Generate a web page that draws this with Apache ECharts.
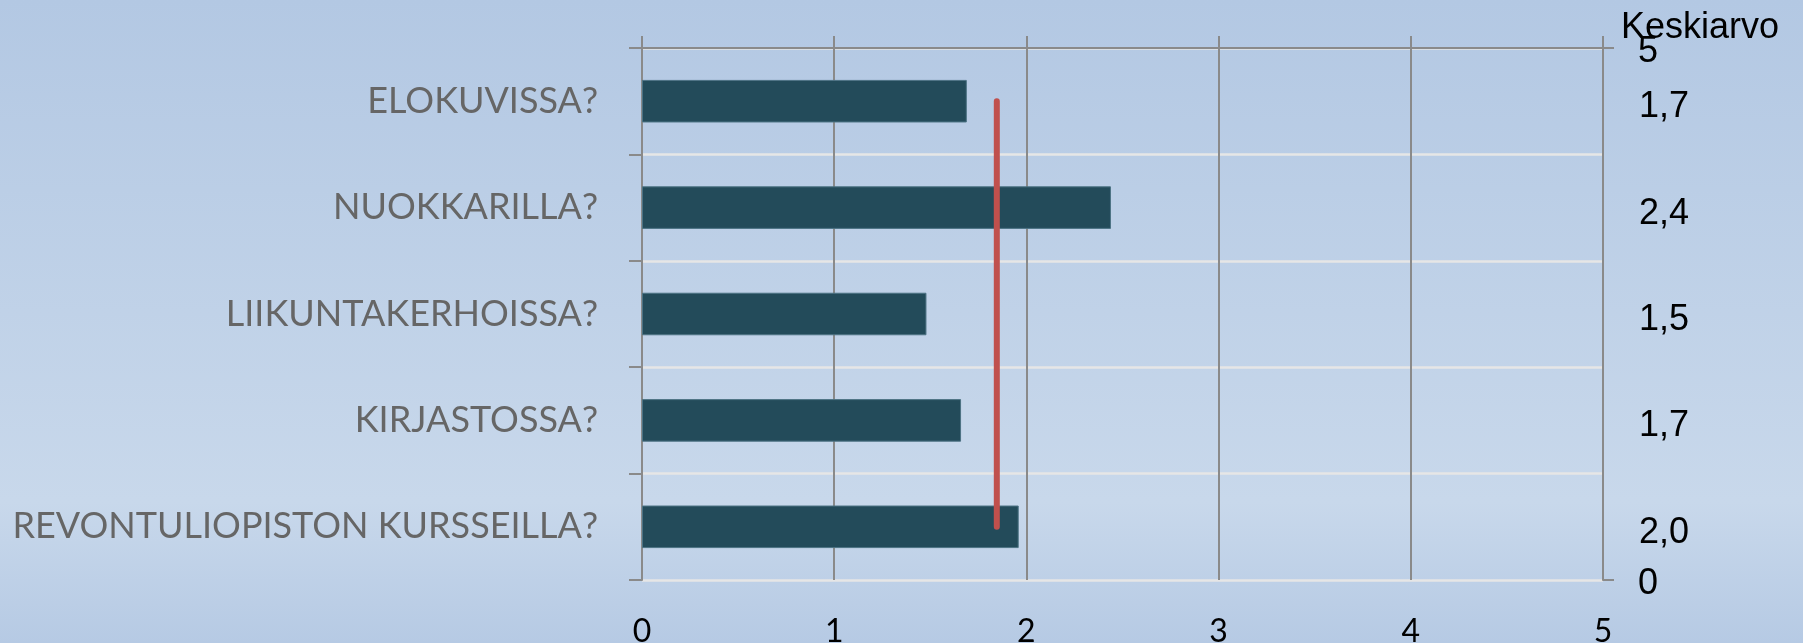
<!DOCTYPE html>
<html>
<head>
<meta charset="utf-8">
<script src="https://cdn.jsdelivr.net/npm/echarts@6/dist/echarts.min.js"></script>
<style>
  html, body { margin: 0; padding: 0; }
  #chart { width: 1803px; height: 643px; }
</style>
</head>
<body>
<div id="chart"></div>
<script>
// kysymykset ylhäältä alas
const categories = ['ELOKUVISSA?', 'NUOKKARILLA?', 'LIIKUNTAKERHOISSA?', 'KIRJASTOSSA?', 'REVONTULIOPISTON KURSSEILLA?']
const values = [1.69, 2.44, 1.48, 1.66, 1.96]
const xTicks = [0, 1, 2, 3, 4, 5]
const rightTicks = [0, 5]

// keskiarvo punaista viivaa varten
const avg = values.reduce((a, b) => a + b, 0) / values.length
const fmt = v => v.toFixed(1).replace('.', ',')

const myChart = echarts.init(document.getElementById('chart'))
const gray = '#8a8a8a'

const options = {
  animation: false,
  backgroundColor: new echarts.graphic.LinearGradient(0, 0, 0, 1, [
    { offset: 0, color: '#b3c8e3' },
    { offset: 0.78, color: '#c8d8eb' },
    { offset: 1, color: '#b6cae4' }
  ]),
  title: {
    text: 'Keskiarvo',
    left: 1621,
    top: 10,
    padding: 0,
    textStyle: { color: '#000', fontFamily: 'Liberation Sans', fontSize: 36, fontWeight: 'normal' }
  },
  grid: { left: 642, right: 200, top: 48, bottom: 63, containLabel: false, outerBoundsMode: 'none' },
  xAxis: [
    {
      type: 'value',
      position: 'bottom',
      min: xTicks[0],
      max: xTicks[xTicks.length - 1],
      interval: 1,
      axisLine: { show: false, onZero: false },
      axisTick: { show: false },
      axisLabel: { margin: 36, color: '#000', fontFamily: 'Lato', fontSize: 32 },
      splitLine: { show: true, lineStyle: { color: gray, width: 2 } }
    },
    {
      // yläreunan akseli (vain viiva ja ticksit)
      type: 'value',
      position: 'top',
      min: xTicks[0],
      max: xTicks[xTicks.length - 1],
      interval: 1,
      axisLine: { show: true, onZero: false, lineStyle: { color: gray, width: 2 } },
      axisTick: { show: true, length: 12, lineStyle: { color: gray, width: 2 } },
      axisLabel: { show: false },
      splitLine: { show: false }
    }
  ],
  yAxis: [
    {
      type: 'category',
      data: categories,
      inverse: true,
      position: 'left',
      axisLine: { show: true, onZero: false, lineStyle: { color: gray, width: 2 } },
      axisTick: { show: true, length: 13, lineStyle: { color: gray, width: 2 } },
      axisLabel: { margin: 44, color: '#666666', fontFamily: 'Lato', fontSize: 36 },
      splitLine: { show: true, lineStyle: { color: '#e6e6e6', width: 2.5 } }
    },
    {
      type: 'value',
      position: 'right',
      min: rightTicks[0],
      max: rightTicks[1],
      interval: 5,
      axisLine: { show: true, onZero: false, lineStyle: { color: gray, width: 2 } },
      axisTick: { show: true, length: 11, lineStyle: { color: gray, width: 2 } },
      axisLabel: {
        margin: 35, verticalAlign: 'top', lineHeight: 8, color: '#000',
        fontFamily: 'Liberation Sans', fontSize: 36, align: 'left'
      },
      splitLine: { show: false }
    },
    {
      // arvot oikealla
      type: 'category',
      data: categories,
      inverse: true,
      position: 'right',
      axisLine: { show: false, onZero: false },
      axisTick: { show: false },
      axisLabel: {
        margin: 36,
        verticalAlign: 'top',
        lineHeight: 12,
        align: 'left',
        color: '#000',
        fontFamily: 'Liberation Sans',
        fontSize: 36,
        formatter: (v, i) => fmt(values[i])
      },
      splitLine: { show: false }
    }
  ],
  series: [
    {
      type: 'bar',
      xAxisIndex: 0,
      yAxisIndex: 0,
      data: values,
      barCategoryGap: '60%',
      itemStyle: { color: '#234b5a', borderColor: '#4d7384', borderWidth: 1 }
    },
    {
      type: 'line',
      xAxisIndex: 0,
      yAxisIndex: 0,
      data: values.map(() => avg),
      symbol: 'none',
      lineStyle: { color: '#c0504d', width: 6, cap: 'round' },
      z: 5
    }
  ]
}
options && myChart.setOption(options)
</script>
</body>
</html>
